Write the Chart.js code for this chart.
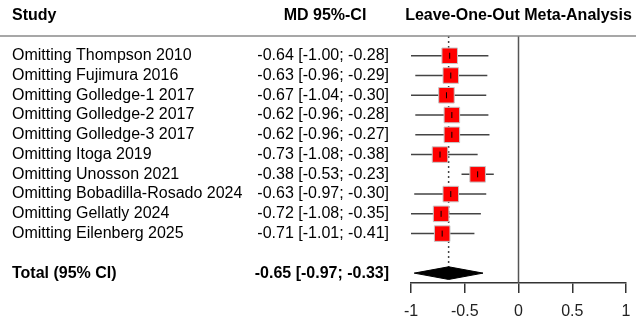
<!DOCTYPE html>
<html>
<head>
<meta charset="utf-8">
<script src="https://cdn.jsdelivr.net/npm/chart.js@4"></script>
<style>
  html, body { margin: 0; padding: 0; background: #fff; }
  #wrap { width: 642px; height: 327px; }
</style>
</head>
<body>
<div id="wrap"><canvas id="forest"></canvas></div>
<script>
// leave-one-out results
const studies = ['Omitting Thompson 2010', 'Omitting Fujimura 2016', 'Omitting Golledge-1 2017',
  'Omitting Golledge-2 2017', 'Omitting Golledge-3 2017', 'Omitting Itoga 2019',
  'Omitting Unosson 2021', 'Omitting Bobadilla-Rosado 2024', 'Omitting Gellatly 2024',
  'Omitting Eilenberg 2025'];
const md = [-0.64, -0.63, -0.67, -0.62, -0.62, -0.73, -0.38, -0.63, -0.72, -0.71];
const lower = [-1.00, -0.96, -1.04, -0.96, -0.96, -1.08, -0.53, -0.97, -1.08, -1.01];
const upper = [-0.28, -0.29, -0.30, -0.28, -0.27, -0.38, -0.23, -0.30, -0.35, -0.41];
const totalLabel = 'Total (95% CI)';
const totalMd = -0.65;
const totalLower = -0.97;
const totalUpper = -0.33;
const xTicks = [-1, -0.5, 0, 0.5, 1];

const totalRow = studies.length + 1;
const FONT = '"Liberation Sans", Arial, sans-serif';

function fmt(v) { return v.toFixed(2); }
function ciText(m, l, u) { return fmt(m) + ' [' + fmt(l) + '; ' + fmt(u) + ']'; }

// CI whiskers as one broken line
const ciLines = [];
studies.forEach((s, i) => {
    ciLines.push({ x: lower[i], y: i }, { x: upper[i], y: i }, { x: null, y: null });
});

const squares = md.map((v, i) => ({ x: v, y: i }));

const diamond = [
    { x: totalLower, y: totalRow },
    { x: totalMd, y: totalRow - 0.32 },
    { x: totalUpper, y: totalRow },
    { x: totalMd, y: totalRow + 0.32 },
    { x: totalLower, y: totalRow }
];

// text columns and header
const tablePlugin = {
    id: 'table',
    afterDraw(chart) {
        const ctx = chart.ctx;
        const y = chart.scales.y;
        const x = chart.scales.x;
        ctx.save();
        ctx.fillStyle = '#000';
        ctx.textBaseline = 'middle';

        ctx.font = 'bold 16px ' + FONT;
        ctx.textAlign = 'left';
        ctx.fillText('Study', 12, 16);
        ctx.textAlign = 'center';
        ctx.fillText('MD 95%-CI', 325, 16);
        ctx.fillText('Leave-One-Out Meta-Analysis', x.getPixelForValue(0), 16);

        ctx.font = '16px ' + FONT;
        studies.forEach((s, i) => {
            const py = y.getPixelForValue(i);
            ctx.textAlign = 'left';
            ctx.fillText(s, 12, py);
            ctx.textAlign = 'right';
            ctx.fillText(ciText(md[i], lower[i], upper[i]), 389, py);
        });

        ctx.font = 'bold 16px ' + FONT;
        const ty = y.getPixelForValue(totalRow);
        ctx.textAlign = 'left';
        ctx.fillText(totalLabel, 12, ty);
        ctx.textAlign = 'right';
        ctx.fillText(ciText(totalMd, totalLower, totalUpper), 389, ty);

        // header rule
        ctx.strokeStyle = '#8a8a8a';
        ctx.lineWidth = 1.5;
        ctx.beginPath();
        ctx.moveTo(0, y.getPixelForValue(-1));
        ctx.lineTo(636, y.getPixelForValue(-1));
        ctx.stroke();
        ctx.restore();
    }
};

new Chart(document.getElementById('forest'), {
    type: 'scatter',
    data: {
        datasets: [
            {   // centre marks
                data: squares,
                pointStyle: 'line',
                rotation: 90,
                pointRadius: 3,
                borderColor: '#000',
                borderWidth: 1,
                order: 0
            },
            {
                data: squares,
                pointStyle: 'rect',
                pointRadius: 11,
                backgroundColor: '#ff0000',
                borderColor: '#c8c8c8',
                borderWidth: 1,
                order: 1
            },
            {
                data: ciLines,
                showLine: true,
                spanGaps: false,
                pointRadius: 0,
                borderColor: '#444',
                borderWidth: 1.5,
                order: 2
            },
            {
                data: diamond,
                showLine: true,
                fill: 'shape',
                pointRadius: 0,
                borderColor: '#000',
                backgroundColor: '#000',
                borderWidth: 1,
                tension: 0,
                order: 1
            },
            {   // pooled estimate
                data: [{ x: totalMd, y: -1 }, { x: totalMd, y: totalRow }],
                showLine: true,
                pointRadius: 0,
                borderColor: '#444',
                borderWidth: 1.5,
                borderDash: [2, 3],
                order: 3
            },
            {   // no effect
                data: [{ x: 0, y: -1 }, { x: 0, y: 11.5 }],
                showLine: true,
                pointRadius: 0,
                borderColor: '#555',
                borderWidth: 1.5,
                order: 3
            }
        ]
    },
    options: {
        responsive: true,
        maintainAspectRatio: false,
        animation: false,
        events: [],
        layout: { padding: { left: 411, right: 16, top: 36, bottom: 0 } },
        plugins: { legend: { display: false }, tooltip: { enabled: false } },
        scales: {
            x: {
                type: 'linear',
                min: -1,
                max: 1,
                afterBuildTicks: s => { s.ticks = xTicks.map(v => ({ value: v })); },
                afterFit: s => { s.height = 44; },
                grid: { drawOnChartArea: false, drawTicks: true, tickLength: 10, color: '#333', lineWidth: 1.5 },
                border: { display: true, color: '#333', width: 1.5 },
                ticks: {
                    color: '#222',
                    padding: 9,
                    font: { size: 16, family: FONT },
                    callback: v => String(v)
                }
            },
            y: {
                type: 'linear',
                display: false,
                reverse: true,
                min: -1,
                max: 11.5
            }
        }
    },
    plugins: [tablePlugin]
});
</script>
</body>
</html>
